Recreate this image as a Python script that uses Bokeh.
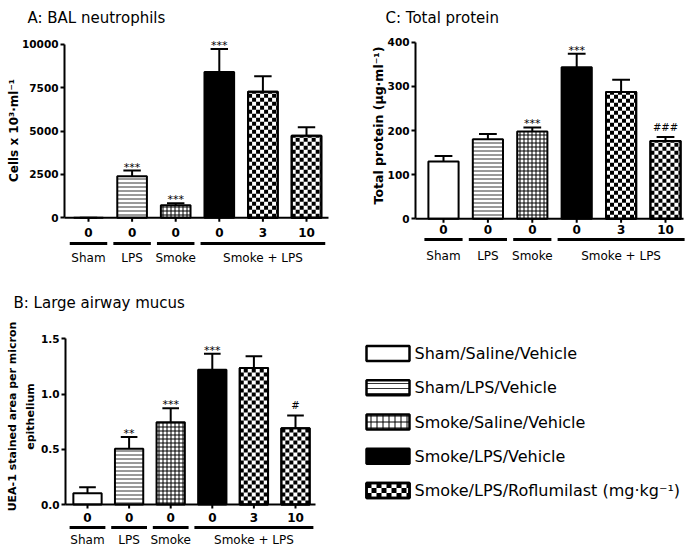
import math
from bokeh.plotting import figure
from bokeh.models import Range1d, FixedTicker, NumeralTickFormatter, Grid
from bokeh.layouts import column, row
from bokeh.embed import file_html
from bokeh.resources import INLINE
from bokeh.core.properties import value

# ---------------- data ----------------
dose_labels = ["0", "0", "0", "0", "3", "10"]
group_names = ["Sham", "LPS", "Smoke", "Smoke + LPS"]
group_first = [0, 1, 2, 3]
group_last = [0, 1, 2, 5]
series_names = ["Sham/Saline/Vehicle", "Sham/LPS/Vehicle", "Smoke/Saline/Vehicle",
                "Smoke/LPS/Vehicle", "Smoke/LPS/Roflumilast (mg·kg⁻¹)"]
bar_series = [0, 1, 2, 3, 4, 4]

neut_mean = [0, 2400, 720, 8400, 7260, 4720]
neut_err = [0, 320, 120, 1330, 900, 490]
neut_sig = ["", "***", "***", "***", "", ""]
neut_ticks = [0, 2500, 5000, 7500, 10000]

protein_mean = [130, 180, 198, 343, 287, 176]
protein_err = [12, 12, 9, 31, 28, 9]
protein_sig = ["", "", "***", "***", "", "###"]
protein_ticks = [0, 100, 200, 300, 400]

mucus_mean = [0.102, 0.504, 0.745, 1.22, 1.235, 0.691]
mucus_err = [0.055, 0.106, 0.127, 0.145, 0.108, 0.115]
mucus_sig = ["", "**", "***", "***", "", "#"]
mucus_ticks = [0.0, 0.5, 1.0, 1.5]

FONT = "DejaVu Sans"
BAR_W = 0.68


def styles(scale_h, scale_c):
    return [
        dict(fill_color="white"),
        dict(fill_color="white", hatch_pattern="horizontal_line", hatch_scale=scale_h,
             hatch_weight=1, hatch_color="#333333"),
        dict(fill_color="white", hatch_pattern="cross", hatch_scale=scale_c,
             hatch_weight=1, hatch_color="black"),
        dict(fill_color="black"),
        dict(fill_color="white"),  # checkerboard cells added separately
    ]


def checker_cells(x0, x1, y0, y1, cw, ch):
    """black cells of a checkerboard filling the rectangle x0..x1, y0..y1"""
    L, R, B, T = [], [], [], []
    ncol = int(math.ceil(abs(x1 - x0) / abs(cw) - 1e-9))
    nrow = int(math.ceil(abs(y1 - y0) / abs(ch) - 1e-9))
    sy = 1 if y1 >= y0 else -1
    for c in range(ncol):
        for r in range(nrow):
            if (r + c) % 2 == 0:
                l = x0 + c * cw
                b = y0 + sy * r * abs(ch)
                t = b + sy * abs(ch)
                t = min(t, y1) if sy > 0 else max(t, y1)
                L.append(l)
                R.append(min(l + cw, x1))
                B.append(b)
                T.append(t)
    return L, R, B, T


def make_panel(w, h, axis_px, c0, sp, y0px, ytop_px, ytop_val):
    def dx(px):
        return (px - c0) / sp
    ky = ytop_val / (y0px - ytop_px)

    def dy(py):
        return (y0px - py) * ky
    p = figure(width=w, height=h, x_range=Range1d(dx(0), dx(w)),
               y_range=Range1d(dy(h), dy(0)), x_axis_location=None,
               min_border_left=0, min_border_right=0, min_border_top=0, min_border_bottom=0,
               output_backend="svg", toolbar_location=None)
    p.outline_line_color = None
    for g in p.center:
        if isinstance(g, Grid):
            g.visible = False
    p.yaxis[0].fixed_location = dx(axis_px)
    return p, dx, dy, sp, ky


def draw(panel, axis_px, right_px, mean, err, sig, ticks, fmt, lab_px, ul_px, grp_px,
         title, title_xy, ylabels):
    p, dx, dy, sp, ky = panel
    st = styles(4, 4)
    n = len(mean)
    xs = list(range(n))
    # bars
    for s in range(5):
        idx = [i for i in xs if bar_series[i] == s]
        if not idx:
            continue
        p.vbar(x=idx, top=[mean[i] for i in idx], bottom=0, width=BAR_W,
               line_color="black", line_width=2, **st[s])
        if s == 4:
            cw = 4.0 / sp
            ch = 4.0 * ky
            L, R, B, T = [], [], [], []
            for i in idx:
                l, r, b, t = checker_cells(i - BAR_W / 2, i + BAR_W / 2, 0, mean[i], cw, ch)
                L += l; R += r; B += b; T += t
            p.quad(left=L, right=R, bottom=B, top=T, fill_color="black", line_color=None)
            p.vbar(x=idx, top=[mean[i] for i in idx], bottom=0, width=BAR_W,
                   line_color="black", line_width=2, fill_color=None)
    # error bars (upper only)
    tops = [m + e for m, e in zip(mean, err)]
    p.segment(x0=xs, x1=xs, y0=mean, y1=tops, line_color="black", line_width=2)
    p.segment(x0=[x - 0.2 for x in xs], x1=[x + 0.2 for x in xs], y0=tops, y1=tops,
              line_color="black", line_width=2)
    # significance markers (offsets in pixels converted to data units)
    si = [i for i in xs if sig[i].startswith("*")]
    hi = [i for i in xs if sig[i].startswith("#")]
    if si:
        p.text(x=si, y=[tops[i] + 3.5 * ky for i in si], text=[sig[i] for i in si],
               text_align="center", text_baseline="middle", text_font=value(FONT),
               text_font_size="11px", text_color="black")
    if hi:
        p.text(x=hi, y=[tops[i] + 9.5 * ky for i in hi], text=[sig[i] for i in hi],
               text_align="center", text_baseline="middle", text_font=value(FONT),
               text_font_size="10px", text_color="black")
    # baseline (x axis) with category ticks
    p.segment(x0=[dx(axis_px)], x1=[dx(right_px)], y0=[0], y1=[0], line_color="black", line_width=2)
    tick_bottom = 0 - 4 * ky
    p.segment(x0=xs, x1=xs, y0=[0] * n, y1=[tick_bottom] * n, line_color="black", line_width=2)
    # dose labels
    p.text(x=xs, y=[dy(lab_px)] * n, text=dose_labels, text_align="center", text_baseline="middle",
           text_font=value(FONT), text_font_size="12px", text_font_style="bold", text_color="black")
    # group underlines + labels
    p.segment(x0=[f - 0.43 for f in group_first], x1=[l + 0.43 for l in group_last],
              y0=[dy(ul_px)] * 4, y1=[dy(ul_px)] * 4, line_color="black", line_width=3)
    p.text(x=[(f + l) / 2 for f, l in zip(group_first, group_last)], y=[dy(grp_px)] * 4,
           text=group_names, text_align="center", text_baseline="middle",
           text_font=value(FONT), text_font_size="12px", text_color="black")
    # y axis
    ax = p.yaxis[0]
    ax.ticker = FixedTicker(ticks=ticks)
    ax.formatter = NumeralTickFormatter(format=fmt)
    ax.bounds = (ticks[0], ticks[-1])
    ax.axis_line_width = 2
    ax.major_tick_line_width = 2
    ax.major_tick_out = 4
    ax.major_tick_in = 0
    ax.minor_tick_line_color = None
    ax.major_label_standoff = 2
    ax.major_label_text_font = FONT
    ax.major_label_text_font_style = "bold"
    ax.major_label_text_font_size = "10.5px"
    ax.major_label_text_color = "black"
    # title
    p.text(x=[dx(title_xy[0])], y=[dy(title_xy[1])], text=[title], text_font=value(FONT),
           text_font_size="15px", text_align="left", text_baseline="middle", text_color="black")
    for (txt, lx, ly, fs) in ylabels:
        p.text(x=[dx(lx)], y=[dy(ly)], text=[txt], angle=math.pi / 2, text_font=value(FONT),
               text_font_size=fs, text_font_style="bold", text_align="center",
               text_baseline="middle", text_color="black")
    return p


# Panel A  (page px 0..345, 0..280)
panelA = make_panel(345, 280, 64, 88, 43.6, 217.3, 43.7, neut_ticks[-1])
pA = draw(panelA, 64, 328, neut_mean, neut_err, neut_sig, neut_ticks, "0", 232, 243, 257,
          "A: BAL neutrophils", (27, 17), [("Cells x 10³·ml⁻¹", 13.5, 130, "12px")])

# Panel C  (page px 345..691, 0..280)
panelC = make_panel(346, 280, 70, 98, 44.4, 218.3, 41.7, protein_ticks[-1])
pC = draw(panelC, 70, 338, protein_mean, protein_err, protein_sig, protein_ticks, "0", 229, 239, 255,
          "C: Total protein", (40, 17), [("Total protein (µg·ml⁻¹)", 33, 125, "12.5px")])

# Panel B  (page px 0..343, 280..547)
panelB = make_panel(343, 267, 65, 87, 41.6, 224, 58.3, mucus_ticks[-1])
pB = draw(panelB, 65, 315, mucus_mean, mucus_err, mucus_sig, mucus_ticks, "0.0", 237, 247, 259,
          "B: Large airway mucus", (13, 22),
          [("UEA-1 stained area per micron", 12, 136, "11px"), ("epithelium", 30, 136, "11px")])

# Legend panel (page px 343..691, 280..547)
LW, LH = 348, 267
pL = figure(width=LW, height=LH, x_range=Range1d(0, LW), y_range=Range1d(LH, 0),
            x_axis_location=None, y_axis_location=None, min_border=0,
            output_backend="svg", toolbar_location=None)
pL.outline_line_color = None
for g in pL.center:
    if isinstance(g, Grid):
        g.visible = False
lst = styles(5, 6)
row_y = [73 + 34.25 * i for i in range(len(series_names))]
box_l, box_r, box_h = 23, 66, 15
for i, name in enumerate(series_names):
    yc = row_y[i]
    pL.quad(left=[box_l], right=[box_r], top=[yc - box_h / 2], bottom=[yc + box_h / 2],
            line_color="black", line_width=2.5, **lst[i])
    if i == 4:
        L, R, B, T = checker_cells(box_l, box_r, yc - box_h / 2, yc + box_h / 2, 5, 5)
        pL.quad(left=L, right=R, bottom=B, top=T, fill_color="black", line_color=None)
        pL.quad(left=[box_l], right=[box_r], top=[yc - box_h / 2], bottom=[yc + box_h / 2],
                line_color="black", line_width=2.5, fill_color=None)
pL.text(x=[71] * len(series_names), y=row_y, text=series_names, text_align="left",
        text_baseline="middle", text_font=value(FONT), text_font_size="16px", text_color="black")

layout = column(row(pA, pC), row(pB, pL))
open("out.html", "w").write(file_html(layout, INLINE))
